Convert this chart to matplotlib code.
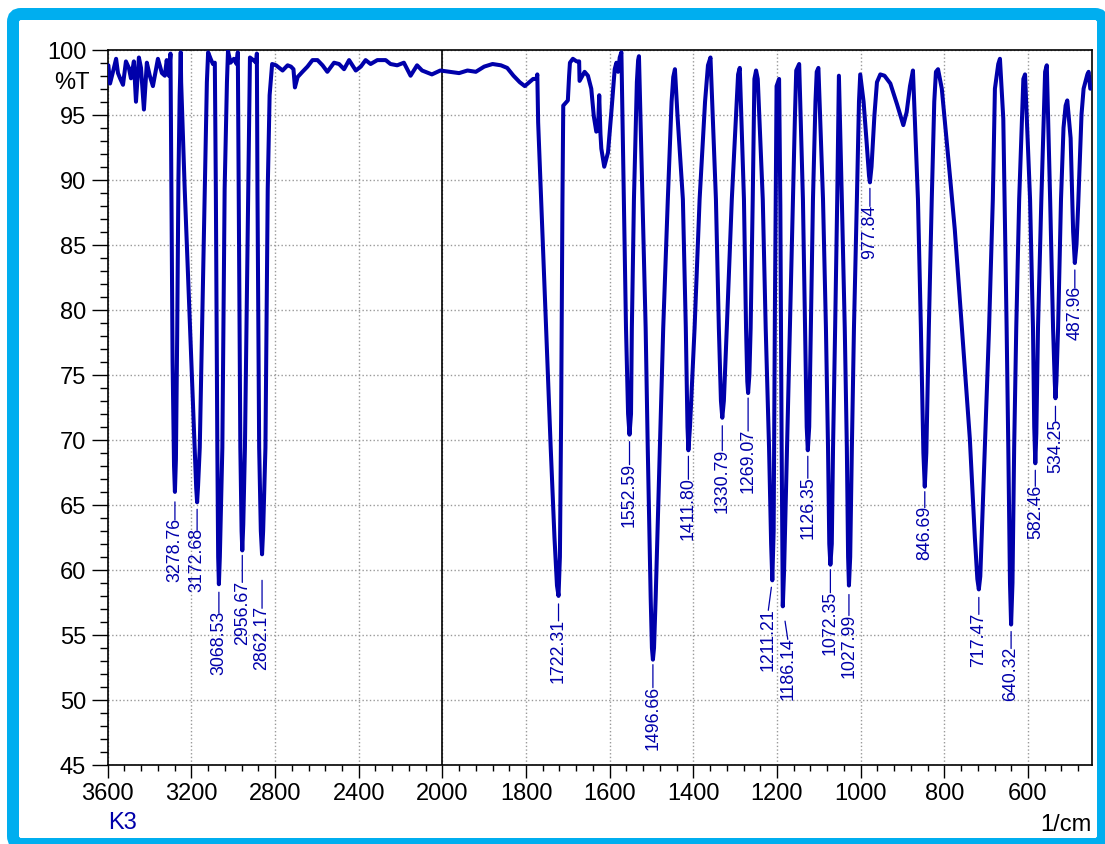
import matplotlib
matplotlib.use("Agg")
import matplotlib.pyplot as plt
import matplotlib.patches as mpatches
import matplotlib.transforms as mtransforms
import numpy as np

plt.rcParams['font.family'] = ['Liberation Sans', 'DejaVu Sans']

# spectrum trace (wavenumber 1/cm, %T)
wn = [3597, 3589, 3575, 3560, 3551, 3541, 3527, 3513, 3499, 3489, 3475, 3465, 3451, 3441,
      3427, 3413, 3399, 3384, 3360, 3341, 3327, 3318, 3308, 3300, 3296, 3290, 3283, 3278.76,
      3274, 3268, 3262, 3256, 3253, 3251, 3249, 3232, 3184, 3177, 3172.68, 3168, 3160, 3136,
      3126, 3120, 3108, 3097, 3088, 3083, 3076, 3072, 3068.53, 3064, 3052, 3041, 3030, 3025,
      3013, 2997, 2984, 2978, 2974, 2966, 2960, 2956.67, 2952, 2944, 2928, 2920, 2904, 2890,
      2887, 2884, 2876, 2868, 2862.17, 2857, 2846, 2835, 2826, 2814, 2795, 2764, 2740, 2724,
      2712, 2705, 2692, 2669, 2645, 2621, 2597, 2573, 2550, 2518, 2494, 2470, 2446, 2414,
      2390, 2367, 2343, 2311, 2271, 2248, 2216, 2184, 2152, 2121, 2097, 2050, 2010,
      1983, 1960, 1940, 1920, 1900, 1880, 1860, 1845, 1830, 1815, 1803, 1783, 1775, 1773,
      1771, 1762, 1752, 1741, 1732, 1726, 1722.31, 1719, 1716, 1713, 1711, 1700, 1697, 1695,
      1688, 1679, 1673, 1672, 1660, 1652, 1644, 1638, 1632, 1628, 1625, 1622, 1620, 1613,
      1604, 1596, 1588, 1584, 1580, 1576, 1572, 1566, 1561, 1556, 1552.59, 1549, 1547, 1542,
      1535, 1532, 1530, 1522, 1514, 1509, 1502, 1499, 1496.66, 1494, 1490, 1480, 1472, 1461,
      1452, 1448, 1444, 1438, 1425, 1418, 1414, 1411.80, 1408, 1397, 1385, 1372, 1365, 1359,
      1346, 1339, 1334, 1330.79, 1327, 1320, 1308, 1298, 1293, 1289, 1279, 1274, 1271,
      1269.07, 1266, 1263, 1258, 1254, 1250, 1246, 1234, 1227, 1219, 1214, 1211.21, 1208,
      1205, 1201, 1195, 1192, 1189, 1186.14, 1183, 1176, 1169, 1162, 1157, 1154, 1147, 1138,
      1133, 1129, 1126.35, 1123, 1119, 1114, 1108, 1105, 1101, 1090, 1083, 1078, 1075,
      1072.35, 1069, 1066, 1061, 1056, 1052, 1045, 1038, 1033, 1030, 1027.99, 1025, 1021,
      1016, 1009, 1004, 1001, 993, 986, 980, 977.84, 974, 967, 961, 953, 943, 929, 913, 898,
      890, 882, 875, 863, 856, 850, 846.69, 843, 837, 830, 824, 820, 815, 806, 794, 786, 775,
      763, 751, 739, 727, 721, 717.47, 714, 703, 693, 684, 679, 671, 667, 659, 651, 647, 643,
      640.32, 637, 633, 628, 621, 611, 607, 595, 588, 585, 582.46, 580, 576, 568, 559, 555,
      547, 540, 536, 534.25, 532, 528, 521, 515, 510, 506, 498, 492, 487.96, 484, 480, 472,
      467, 458, 455, 451]
tr = [98.8, 97.4, 98.3, 99.3, 98.2, 97.8, 97.3, 99.1, 98.6, 97.8, 99.1, 96.0, 99.4, 98.6,
      95.4, 99.0, 98.0, 97.2, 99.3, 98.2, 98.0, 99.2, 98.0, 99.7, 90, 76, 68, 66.0,
      68.5, 78, 90, 96.5, 98.4, 99.8, 97.5, 89.3, 69.4, 66.3, 65.2, 66.5, 69.4, 89.3,
      97.5, 99.8, 99.3, 98.9, 99.0, 89.0, 69.4, 61, 58.9, 61, 69.4, 89.3, 97.5, 99.9,
      99.0, 99.3, 98.9, 99.8, 90, 69.4, 63, 61.5, 63.5, 69.4, 89.3, 99.4, 99.2, 99.0,
      99.7, 89, 69.4, 63, 61.2, 63, 69.4, 89.3, 96.5, 98.9, 98.8, 98.4, 98.8, 98.7,
      98.5, 97.1, 97.9, 98.3, 98.7, 99.2, 99.2, 98.8, 98.3, 99.0, 98.9, 98.5, 99.2, 98.4,
      98.7, 99.2, 98.9, 99.2, 99.2, 98.9, 98.8, 99.0, 98.0, 98.8, 98.4, 98.1, 98.4,
      98.3, 98.2, 98.4, 98.3, 98.7, 98.9, 98.8, 98.6, 98.0, 97.5, 97.2, 97.75, 97.75, 98.1,
      94.4, 87, 78.6, 69.4, 62.5, 58.8, 58.0, 61, 72, 88, 95.7, 96.1, 98.0, 99.0,
      99.3, 99.1, 99.1, 97.6, 98.3, 98.0, 97.0, 94.9, 93.7, 93.8, 96.5, 93.5, 92.4, 91.0,
      92.1, 95.2, 98.5, 99.0, 98.3, 99.4, 99.8, 88.5, 78.6, 72, 70.4, 72, 78.6, 88.5,
      97.5, 99.2, 99.5, 89, 78.6, 69.4, 57.9, 54, 53.1, 54, 57.9, 69.4, 78.6, 88.5,
      96, 97.9, 98.5, 95, 88.5, 78.6, 71, 69.2, 71, 78.6, 88.5, 96, 98.8, 99.4,
      88.5, 78.6, 73, 71.7, 73, 78.6, 88.5, 95, 98.1, 98.6, 88.5, 78.6, 74.5,
      73.6, 75, 78.6, 88.5, 97.75, 98.4, 97.75, 88.5, 78.6, 69.4, 62, 59.2, 63,
      80, 97.2, 97.75, 88, 70, 57.2, 60, 69.4, 78.6, 88.5, 95, 98.4, 98.9, 88.5,
      78.6, 71, 69.2, 71, 78.6, 88.5, 96, 98.3, 98.6, 88.5, 78.6, 69.4, 62,
      60.4, 62, 69.4, 78.6, 88.5, 98.0, 88.5, 78.6, 69.4, 61, 58.8, 61, 69.4,
      78.6, 88.5, 96, 98.1, 96, 93, 90.3, 89.8, 91, 95, 97.5, 98.1, 98.0, 97.4, 95.8, 94.2,
      95.2, 97.2, 98.4, 88.5, 78.6, 69, 66.4, 69, 78.6, 88.5, 96, 98.3, 98.5, 97.0, 92.9, 90.1, 86.2,
      80.9, 75.5, 70.1, 62.5, 59.3, 58.5, 59.5, 69.4, 78.6, 88.5, 97.0, 98.9, 99.3, 94.7, 78.6, 69.4, 59,
      55.8, 59, 69.4, 78.6, 88.5, 97.75, 98.1, 88.5, 78.6, 71, 68.2, 70.5, 78.6, 88.5, 98.3, 98.8,
      88.5, 78.6, 74.5, 73.2, 74.5, 78.6, 88.5, 94, 95.7, 96.1, 93.2, 86, 83.6, 85, 88, 95,
      97.0, 98.1, 98.3, 97.0]

# labelled peaks
peaks = [3278.76, 3172.68, 3068.53, 2956.67, 2862.17, 1722.31, 1552.59, 1496.66, 1411.80,
         1330.79, 1269.07, 1211.21, 1186.14, 1126.35, 1072.35, 1027.99, 977.84, 846.69,
         717.47, 640.32, 582.46, 534.25, 487.96]
# label layout in pixels: gap below minimum, drop to text top, sideways shift
lab_gap = [10, 7, 8, 5, 26, 8, 7, 5, 6, 8, 5, 7, 15, 6, 5, 9, 6, 5, 8, 7, 7, 8, 7]
lab_drop = [25, 25, 26, 29, 51, 22, 27, 25, 26, 30, 35, 27, 30, 25, 25, 27, 21, 18, 22, 21, 20, 20, 22]
lab_dx = [0, 0, 0, 0, 0, 0, 0, 0, 0, 0, 0, -4, 5, 0, 0, 0, 0, 0, 0, 0, 0, 0, 0]

xticks = [3600, 3200, 2800, 2400, 2000, 1800, 1600, 1400, 1200, 1000, 800, 600]
yticks = [45, 50, 55, 60, 65, 70, 75, 80, 85, 90, 95, 100]

blue = '#0000AA'


def fwd(x):
    x = np.asarray(x, dtype=float)
    return np.where(x > 2000, 2000 + (x - 2000) / 2, x)


def inv(u):
    u = np.asarray(u, dtype=float)
    return np.where(u > 2000, 2000 + (u - 2000) * 2, u)


fig = plt.figure(figsize=(11.05, 8.45), dpi=100)
ax = fig.add_axes([0.0975, 0.0935, 0.8907, 0.8465])
ax.set_xscale('function', functions=(fwd, inv))
ax.set_xlim(3600, 447)
ax.set_ylim(45, 100)

ax.set_xticks(xticks)
ax.set_xticklabels([str(t) for t in xticks])
ax.set_xticks(list(np.arange(3600, 2000, -80)) + list(np.arange(2000, 447, -40)), minor=True)
ax.set_yticks(yticks)
ax.set_yticks(np.arange(45, 101, 1), minor=True)

ax.tick_params(axis='both', labelsize=17, direction='out', width=1, color='black')
ax.tick_params(axis='y', which='major', length=11.5, pad=4)
ax.tick_params(axis='y', which='minor', length=5.8, width=1)
ax.tick_params(axis='x', which='major', length=9.4, pad=3)
ax.tick_params(axis='x', which='minor', length=4.3, width=1)

for s in ax.spines.values():
    s.set_linewidth(1.2)
    s.set_color('black')

ax.grid(True, which='major', linestyle=':', color='#999999', linewidth=1)
ax.axvline(2000, color='black', linewidth=1.2, zorder=3)

ax.plot(wn, tr, color=blue, linewidth=2.9, solid_joinstyle='round',
        solid_capstyle='round', zorder=4)

for p, g, d, dx in zip(peaks, lab_gap, lab_drop, lab_dx):
    t = tr[wn.index(p)]
    # leader line from just under the minimum to the top of the label
    ax.annotate('', xy=(p, t), xytext=(dx, -d - 3), textcoords='offset pixels',
                arrowprops=dict(arrowstyle='-', color=blue, lw=0.9, shrinkA=0,
                                shrinkB=g * 0.72),
                zorder=5)
    ax.annotate(f"{p:.2f}", xy=(p, t), xytext=(dx, -d), textcoords='offset pixels',
                rotation=90, ha='center', va='top', fontsize=12.8, color=blue, zorder=5)

ax.annotate('%T', xy=(0, 97.5), xycoords=('axes fraction', 'data'), xytext=(-18, 0),
            textcoords='offset pixels', ha='right', va='center', fontsize=17)

fig.text(108 / 1105, 1 - 823 / 845, 'K3', color=blue, fontsize=17, ha='left', va='center')
fig.text(1092 / 1105, 1 - 825 / 845, '1/cm', color='black', fontsize=17, ha='right', va='center')

frame = mpatches.FancyBboxPatch((13, 0), 1090, 830, boxstyle='round,pad=0,rounding_size=8',
                                linewidth=8.64, edgecolor='#00AEEF', facecolor='none',
                                transform=mtransforms.IdentityTransform())
fig.add_artist(frame)

fig.savefig('out.png', dpi=100)
